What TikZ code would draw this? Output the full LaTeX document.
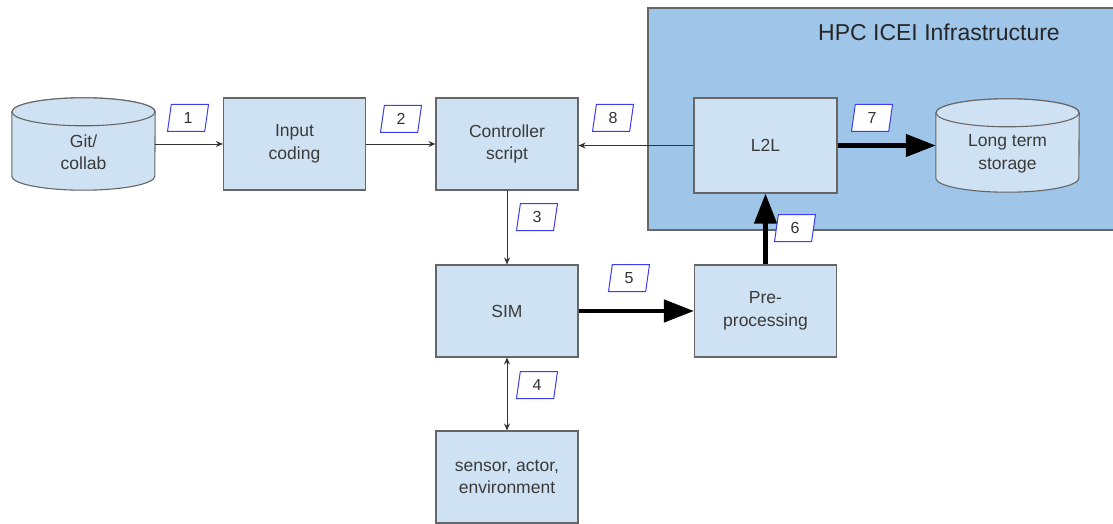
\documentclass[tikz,border=0pt]{standalone}
\usepackage{fontspec}
\setmainfont{Liberation Sans}
\usetikzlibrary{arrows.meta,shapes.geometric}
\definecolor{boxfill}{HTML}{CFE2F3}
\definecolor{hpcfill}{HTML}{9FC5E8}
\definecolor{boxline}{HTML}{666666}
\definecolor{txt}{HTML}{3A3A3A}
\definecolor{lineclr}{HTML}{333333}
\definecolor{lblblue}{HTML}{3C3CF0}
\newcommand{\cylinderat}[3]{%
  \filldraw[cylstyle] ([yshift=-#3]#1.north west) -- ([yshift=#3]#1.south west)
    arc[start angle=180,end angle=360,x radius=#2,y radius=#3]
    -- ([yshift=-#3]#1.north east)
    arc[start angle=0,end angle=180,x radius=#2,y radius=#3] -- cycle;
  \draw[cylstyle] ([yshift=-#3]#1.north) ellipse[x radius=#2,y radius=#3];
}
\tikzset{
  boxstyle/.style={draw=boxline, fill=boxfill, line width=1.1pt, minimum width=142pt,
    minimum height=92pt, align=center, text=txt, inner sep=0pt,
    font=\fontsize{17.5}{22.5}\selectfont},
  cylstyle/.style={draw=boxline, fill=boxfill, line width=1.1pt},
  cylnode/.style={minimum width=143pt, minimum height=92pt, inner sep=0pt},
  cyltext/.style={align=center, text=txt, inner sep=0pt, font=\fontsize{17.5}{22.5}\selectfont},
  lbl/.style={trapezium, trapezium left angle=71, trapezium right angle=109,
    trapezium stretches body, draw=lblblue, fill=white, line width=1pt,
    minimum width=41pt, minimum height=27pt, inner sep=0pt, text=lineclr,
    font=\fontsize{16}{16}\selectfont},
  thinarrow/.style={draw=lineclr, line width=1pt, -{Stealth[length=7pt,width=6pt]}},
  thinboth/.style={draw=lineclr, line width=1pt, {Stealth[length=7pt,width=6pt]}-{Stealth[length=7pt,width=6pt]}},
  thickarrow/.style={draw=black, line width=4.5pt, -{Triangle[length=30pt,width=22pt]}},
}
\begin{document}
\begin{tikzpicture}[x=1pt,y=-1pt]
\useasboundingbox (0,0) rectangle (1113,524);
% HPC region
\node[draw=boxline, fill=hpcfill, line width=1.1pt, minimum width=472pt, minimum height=222pt,
  inner sep=0pt] (hpc) at (884,119) {};
\node[text=black!85, font=\fontsize{23}{26}\selectfont, inner sep=0pt] (hpctitle) at (939,32) {HPC ICEI Infrastructure};
% boxes
\node[boxstyle] (inp) at (294.5,144) {Input\\coding};
\node[boxstyle] (ctrl) at (507,144) {Controller\\script};
\node[boxstyle] (sim) at (507,311) {SIM};
\node[boxstyle] (pre) at (765.5,311) {Pre-\\processing};
\node[boxstyle] (sens) at (507,477) {sensor, actor,\\environment};
\node[boxstyle, minimum width=143pt, minimum height=95pt] (l2l) at (765.5,145.5) {L2L};
% cylinders
\node[cylnode] (git) at (83.5,144) {};
\cylinderat{git}{71.5pt}{14pt}
\node[cyltext] (gittext) at (83.5,152) {Git/\\collab};
\node[cylnode, minimum height=93pt] (lts) at (1007.5,145.5) {};
\cylinderat{lts}{71.5pt}{14pt}
\node[cyltext] (ltstext) at (1007.5,154) {Long term\\storage};
% connectors
\draw[thinarrow] (git.east) -- (inp.west);
\draw[thinarrow] (inp.east) -- (ctrl.west);
\draw[thinarrow] (l2l.west) -- (l2l.west -| ctrl.east);
\draw[thinarrow] (ctrl.south) -- (sim.north);
\draw[thinboth] (sim.south) -- (sens.north);
\draw[thickarrow] (sim.east) -- (pre.west);
\draw[thickarrow] (pre.north) -- (l2l.south);
\draw[thickarrow] (l2l.east) -- (l2l.east -| lts.west);
% labels
\node[lbl] (l1) at (188,118) {1};
\node[lbl] (l2) at (401,119) {2};
\node[lbl] (l8) at (613,118) {8};
\node[lbl] (l7) at (872,118) {7};
\node[lbl] (l3) at (537,217) {3};
\node[lbl] (l5) at (629,278) {5};
\node[lbl] (l4) at (537,385) {4};
\node[lbl] (l6) at (795,228) {6};
\end{tikzpicture}
\end{document}
